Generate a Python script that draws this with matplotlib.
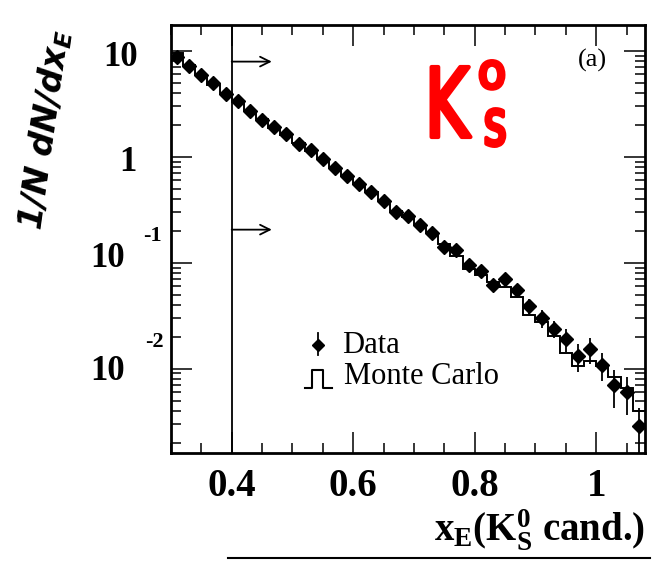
import numpy as np
import matplotlib
matplotlib.use('Agg')
import matplotlib.pyplot as plt
from matplotlib.ticker import FixedLocator, MultipleLocator, NullFormatter
from matplotlib.lines import Line2D
from matplotlib.textpath import TextPath
from matplotlib.patches import PathPatch
from matplotlib.font_manager import FontProperties
from matplotlib.transforms import Affine2D, IdentityTransform

# x_E bins, 0.02 wide
x_lo, x_hi, n_bins = 0.30, 1.08, 39
edges = np.linspace(x_lo, x_hi, n_bins + 1)
centers = 0.5 * (edges[:-1] + edges[1:])

data = [8.81, 7.20, 5.89, 4.92, 3.93, 3.36, 2.68, 2.24, 1.91, 1.63,
        1.33, 1.16, 0.951, 0.777, 0.663, 0.553, 0.463, 0.378, 0.302, 0.275,
        0.225, 0.192, 0.140, 0.131, 0.0960, 0.0836, 0.0612, 0.0695, 0.0555, 0.0389,
        0.0299, 0.0238, 0.0191, 0.0131, 0.0152, 0.0109, 0.00698, 0.00596, 0.00289]
data_err = [0.26, 0.22, 0.18, 0.15, 0.12, 0.10, 0.08, 0.07, 0.06, 0.05,
            0.05, 0.045, 0.038, 0.031, 0.027, 0.022, 0.019, 0.016, 0.013, 0.012,
            0.013, 0.012, 0.009, 0.009, 0.008, 0.0075, 0.006, 0.007, 0.0078, 0.0062,
            0.0057, 0.0045, 0.0046, 0.0038, 0.0041, 0.0033, 0.0027, 0.0023, 0.0014]
mc = [9.6, 7.3, 5.9, 4.8, 4.0, 3.3, 2.7, 2.25, 1.88, 1.60,
      1.35, 1.14, 0.96, 0.79, 0.66, 0.55, 0.465, 0.38, 0.31, 0.27,
      0.225, 0.19, 0.15, 0.115, 0.0879, 0.0767, 0.0654, 0.0584, 0.0477, 0.0320,
      0.0274, 0.0205, 0.0141, 0.0105, 0.0117, 0.0106, 0.00832, 0.00650, 0.00401]

x_ticks = [0.4, 0.6, 0.8, 1.0]
x_ticklabels = ['0.4', '0.6', '0.8', '1']
cut = 0.4

plt.rcParams['font.family'] = 'Liberation Serif'
plt.rcParams['mathtext.fontset'] = 'custom'
plt.rcParams['mathtext.rm'] = 'Liberation Serif'
plt.rcParams['mathtext.bf'] = 'Liberation Serif:bold'
plt.rcParams['mathtext.it'] = 'Liberation Serif:italic'
plt.rcParams['mathtext.sf'] = 'DejaVu Sans:bold:italic'

fig = plt.figure(figsize=(6.6, 5.62), dpi=100)
ax = fig.add_axes([0.259, 0.194, 0.718, 0.7615])

ax.stairs(mc, edges, baseline=None, color='k', lw=1.4)
ax.errorbar(centers, data, yerr=data_err, fmt='D', ms=7, color='k',
            elinewidth=1.3, capsize=0)

# selection cut with arrows
ax.axvline(cut, color='k', lw=1.3)
for ya in (7.9, 0.205):
    ax.annotate('', xy=(cut + 0.066, ya), xytext=(cut, ya),
                arrowprops=dict(arrowstyle='->,head_length=0.7,head_width=0.35',
                                lw=1.3, color='k', shrinkA=0, shrinkB=0))

ax.set_yscale('log')
ax.set_xlim(x_lo, x_hi)
ax.set_ylim(0.0016, 17.5)

ax.xaxis.set_major_locator(FixedLocator(x_ticks))
ax.set_xticklabels(x_ticklabels, fontsize=28, fontweight='bold')
ax.xaxis.set_minor_locator(MultipleLocator(0.05))
ax.yaxis.set_major_formatter(NullFormatter())
ax.yaxis.set_minor_formatter(NullFormatter())
ax.tick_params(which='both', direction='in', top=True, right=True, width=1.1)
ax.tick_params(which='major', length=15, pad=11)
ax.tick_params(which='minor', length=7)
for sp in ax.spines.values():
    sp.set_linewidth(2)


def ylab(txt, yval, dx, dy, size, ha='right'):
    ax.annotate(txt, xy=(0, yval), xycoords=('axes fraction', 'data'),
                xytext=(dx, dy), textcoords='offset pixels', ha=ha, va='center',
                fontsize=size, fontweight='bold', annotation_clip=False)


ylab('10', 10, -33, -7, 25)
ylab('1', 1, -34, -6, 25)
ylab('10', 0.1, -46, 4, 25)
ylab('-1', 0.1, -19, 27, 16, ha='center')
ylab('10', 0.01, -46, -3, 25)
ylab('-2', 0.01, -17, 27, 16, ha='center')

# legend
ax.plot([0.310, 0.310], [0.229, 0.280], color='k', lw=1.3, transform=ax.transAxes)
ax.plot([0.310], [0.252], 'D', ms=6, color='k', transform=ax.transAxes)
ax.text(0.362, 0.252, 'Data', transform=ax.transAxes, fontsize=22, va='center')
ax.plot([0.283, 0.297, 0.297, 0.321, 0.321, 0.340],
        [0.152, 0.152, 0.194, 0.194, 0.152, 0.152],
        color='k', lw=1.5, transform=ax.transAxes)
ax.text(0.366, 0.178, 'Monte Carlo', transform=ax.transAxes, fontsize=22, va='center')

ax.text(0.890, 0.918, '(a)', transform=ax.transAxes, fontsize=19,
        ha='center', va='center')

fig.text(0.977, 0.057, r'$\mathbf{x_E(K_S^0}$ cand.)', fontsize=28,
         fontweight='bold', ha='right', va='center')

fig.text(0.068, 0.769, r'1/N dN/dx$_\mathsf{E}$', rotation=82, fontsize=24,
         family='DejaVu Sans', style='italic', fontweight='bold',
         ha='center', va='center', rotation_mode='anchor')

# red K0s written on the panel
hand = FontProperties(family='DejaVu Sans')


def scrawl(s, x, y, size, sx):
    path = TextPath((0, 0), s, size=size, prop=hand)
    tr = Affine2D().scale(sx, 1).translate(x, y)
    fig.add_artist(PathPatch(tr.transform_path(path), transform=IdentityTransform(),
                             facecolor='red', edgecolor='red', lw=3,
                             joinstyle='round'))


scrawl('K', 425, 425, 96, 0.7)
scrawl('o', 478, 474, 48, 0.95)
scrawl('s', 484, 417, 64, 0.67)

# edge of the panel below
fig.add_artist(Line2D([0.345, 0.985], [0.008, 0.008], color='k', lw=1.5))

fig.savefig('out.png', dpi=100)
